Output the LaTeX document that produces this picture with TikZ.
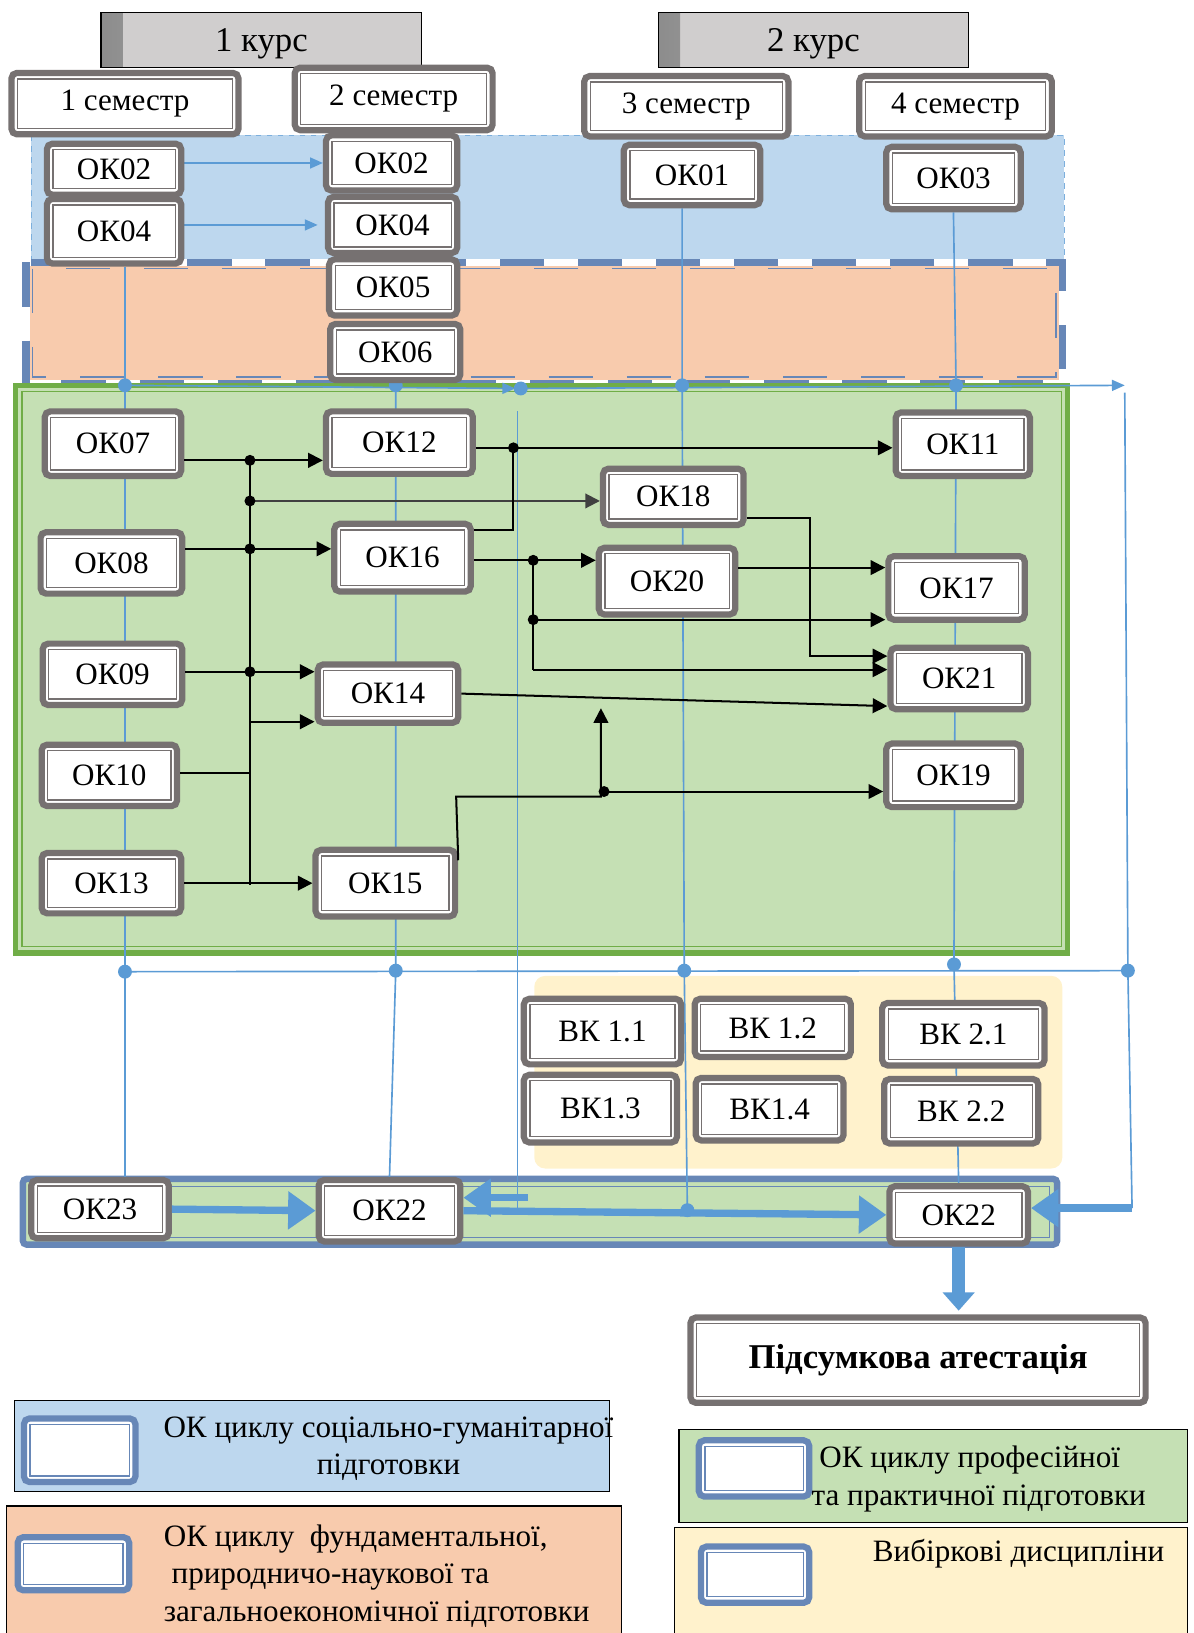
\documentclass[tikz,border=0pt]{standalone}
\usepackage{fontspec}
\setmainfont{Liberation Serif}
\usetikzlibrary{arrows.meta}
\definecolor{boxgray}{HTML}{767171}
\definecolor{kursgray}{HTML}{D0CECE}
\definecolor{socblue}{HTML}{BDD7EE}
\definecolor{fundorange}{HTML}{F8CBAD}
\definecolor{profgreen}{HTML}{C5E0B4}
\definecolor{greenline}{HTML}{70AD47}
\definecolor{electyellow}{HTML}{FFF2CC}
\definecolor{linkblue}{HTML}{5B9BD5}
\definecolor{frameblue}{HTML}{6787B7}
\pgfdeclarelayer{back}
\pgfdeclarelayer{links}
\pgfsetlayers{back,links,main}
\tikzset{
  wh/.style 2 args={minimum width=(#1-6)*0.02cm, minimum height=(#2-6)*0.02cm},
  dblbox/.style={draw=#1, line width=3.4pt, fill=white, rounded corners=3pt, inner sep=0pt,
    font=\fontsize{17}{20}\selectfont,
    path picture={\draw[#1, line width=0.7pt, sharp corners]
      ([shift={(3.3pt,-3.3pt)}]path picture bounding box.north west) rectangle
      ([shift={(-3.3pt,3.3pt)}]path picture bounding box.south east);}},
  okbox/.style={dblbox=boxgray},
  keybox/.style={dblbox=frameblue},
  kursbox/.style={draw=black, line width=0.6pt, fill=kursgray, inner sep=0pt,
    font=\fontsize{19}{22}\selectfont, text depth=0pt,
    path picture={\shade[left color=black!45, right color=kursgray]
      (path picture bounding box.north west) rectangle
      ([xshift=12pt]path picture bounding box.south west);}},
  keytext/.style={font=\fontsize{17}{20.5}\selectfont, inner sep=0pt},
  link/.style={draw=linkblue, line width=0.9pt},
  fat/.style={draw=linkblue, line width=4pt, -{Triangle[length=15pt,width=20pt]}},
  wire/.style={draw=black, line width=1.1pt},
  flow/.style={wire, -{Triangle[length=8pt,width=8pt]}}
}

\begin{document}
\begin{tikzpicture}[x=0.02cm,y=-0.02cm]
  \useasboundingbox (0,0) rectangle (1146,1568);

  % cycle areas
  \begin{pgfonlayer}{back}
    \fill[socblue] (30,130) rectangle (1022,250);
    \draw[linkblue!80, dashed, line width=0.5pt] (30,130) rectangle (1022,250);
    \fill[fundorange] (25,252) rectangle (1020,368);
    \draw[white, line width=4pt] (25,252) rectangle (1020,368);
    \draw[frameblue, line width=4pt, dash pattern=on 0.85cm off 0.65cm] (25,252) rectangle (1020,368);
    \draw[frameblue, line width=0.8pt, dash pattern=on 0.85cm off 0.65cm] (31,258) rectangle (1014,362);
    \fill[profgreen] (15,370) rectangle (1025,915);
    \draw[greenline, line width=3pt] (15,370) rectangle (1025,915);
    \draw[greenline, line width=0.8pt] (21,376) rectangle (1019,909);
    \fill[electyellow, rounded corners=6pt] (513,937) rectangle (1020,1122);
    \fill[profgreen] (22,1132) rectangle (1015,1195);
    \draw[frameblue, line width=3.5pt, rounded corners=2pt] (22,1132) rectangle (1015,1195);
    \draw[frameblue, line width=0.7pt] (29,1139) rectangle (1008,1188);
  \end{pgfonlayer}

  % years and semesters
  \node[kursbox, wh={314}{59}] (kurs1) at (251,38.5) {1 курс};
  \node[kursbox, wh={304}{59}] (kurs2) at (781,38.5) {2 курс};
  \foreach \nm/\txt/\x/\y/\w/\h in {
    sem1/1 семестр/120/99.5/224/65, sem2/2 семестр/378/95/196/66,
    sem3/3 семестр/659/102/202/64, sem4/4 семестр/917.5/102/191/64}
    \node[okbox, wh={\w}{\h}] (\nm) at (\x,\y) {\txt};

  % disciplines
  \foreach \nm/\txt/\x/\y/\w/\h in {
    ok02a/ОК02/109.5/162.5/135/55, ok04a/ОК04/109.5/222/135/68,
    ok02b/ОК02/376/156.5/132/59, ok04b/ОК04/377/216/130/60,
    ok05/ОК05/377.5/276/129/60, ok06/ОК06/379.5/338/131/60,
    ok01/ОК01/664.5/168/137/64, ok03/ОК03/915.5/171/135/66,
    ok07/ОК07/108.5/426/137/68, ok08/ОК08/107/540.5/142/65,
    ok09/ОК09/108/647.5/140/65, ok10/ОК10/105/744.5/136/65,
    ok13/ОК13/107/848/140/64, ok12/ОК12/383.5/425/147/66,
    ok16/ОК16/386.5/535.5/137/71, ok14/ОК14/372.5/666/141/62,
    ok15/ОК15/370/848/140/70, ok18/ОК18/646.5/477/141/60,
    ok20/ОК20/640.5/558/137/70, ok11/ОК11/924.5/426.5/135/67,
    ok17/ОК17/918.5/564.5/137/67, ok21/ОК21/921/651.5/138/65,
    ok19/ОК19/915.5/744.5/135/67,
    vk11/ВК 1.1/578.5/990.5/157/69, vk12/ВК 1.2/742/987/156/62,
    vk21/ВК 2.1/925/993/162/66, vk13/ВК1.3/576.5/1064.5/153/71,
    vk14/ВК1.4/739/1065/148/66, vk22/ВК 2.2/923/1067/154/68,
    ok23/ОК23/96/1161/138/62, ok22a/ОК22/374/1162.5/142/65,
    ok22b/ОК22/920.5/1166.5/139/61}
    \node[okbox, wh={\w}{\h}] (\nm) at (\x,\y) {\txt};
  \node[okbox, wh={443}{88}, font=\bfseries\fontsize{19}{22}\selectfont] (final)
    at (881.5,1306) {Підсумкова атестація};

  % blue semester lines
  \coordinate (t1) at (120,370);  \coordinate (t2) at (380,370);
  \coordinate (t3) at (500,373);  \coordinate (t4) at (655,370);
  \coordinate (t5) at (918,370);  \coordinate (tend) at (1080,370);
  \coordinate (m1) at (120,933);  \coordinate (m2) at (380,932);
  \coordinate (m3) at (657,932);  \coordinate (m4) at (916,926);
  \coordinate (m5) at (1083,932); \coordinate (b3) at (660,1162);
  \coordinate (c3) at (497,395);  \coordinate (c3b) at (497,1160);
  \coordinate (lret) at (507,1150); \coordinate (r1) at (1087,1160);
  \begin{pgfonlayer}{links}
    \draw[link] (ok04a.south -| t1) -- (t1) -- (m1) -- (ok23.north -| m1);
    \draw[link] (ok06.south -| t2) -- (t2) -- (m2) -- (ok22a.north);
    \draw[link] (ok01.south -| t4) -- (t4) -- (m3) -- (b3);
    \draw[link] (ok03.south) -- (t5) -- (m4) -- (ok22b.north);
    \draw[link, -{Triangle[length=7pt,width=6pt]}] (t1) -- ([xshift=-3pt]t3);
    \draw[link, -{Triangle[length=7pt,width=6pt]}] (t3) -- (tend);
    \draw[link] ([yshift=-4pt]tend) -- (m5) -- (r1);
    \draw[link] (m1) -- (m5);
    \draw[link] (c3) -- (c3b);
    \draw[link, -{Triangle[length=7pt,width=6pt]}] (ok02a.east |- ok02b.west) -- (ok02b.west);
    \draw[link, -{Triangle[length=7pt,width=6pt]}] (ok04a.east |- ok04b.west) -- ([xshift=-4pt]ok04b.west);
    \foreach \p in {t1,t2,t3,t4,t5,m1,m2,m3,m4,m5}
      \fill[linkblue] (\p) circle[radius=3.8pt];
  \end{pgfonlayer}

  % final module
  \draw[fat] (ok23.east) -- (ok22a.west);
  \draw[fat] (lret) -- (ok22a.east |- lret);
  \draw[fat] (ok22a.east) -- (ok22b.west);
  \draw[fat] (r1) -- (ok22b.east |- r1);
  \fill[linkblue] (b3) circle[radius=3.8pt];
  \draw[draw=linkblue, line width=7pt, -{Triangle[length=10pt,width=17pt]}, shorten >=2pt]
    (ok22b.south) -- (ok22b.south |- final.north);

  % professional links
  \coordinate (j1) at (240,442);  \coordinate (j2) at (240,481);
  \coordinate (j3) at (240,527);  \coordinate (j4) at (240,645);
  \coordinate (j5) at (240,693);  \coordinate (j6) at (240,742);
  \coordinate (j7) at (240,850);
  \coordinate (k0) at (493,509);  \coordinate (k1) at (493,430);
  \coordinate (k2) at (512,538);  \coordinate (k4) at (512,595);
  \coordinate (k5) at (512,643);  \coordinate (k6) at (778,497);
  \coordinate (k7) at (778,630);  \coordinate (k8) at (780,545);
  \coordinate (k9) at (850,678);  \coordinate (k13) at (438,826);
  \coordinate (k10) at (438,765); \coordinate (k11) at (577,765);
  \coordinate (k12) at (577,680); \coordinate (k14) at (580,760);
  \draw[wire] (j1) -- (j7);
  \draw[flow] (ok07.east |- j1) -- (ok12.west |- j1);
  \draw[flow, draw=black!75] (j2) -- (ok18.west |- j2);
  \draw[flow] (ok08.east |- j3) -- (ok16.west |- j3);
  \draw[flow] (ok09.east |- j4) -- (ok14.west |- j4);
  \draw[flow] (j5) -- (ok14.west |- j5);
  \draw[wire] (ok10.east |- j6) -- (j6);
  \draw[flow] (ok13.east) -- (ok15.west);
  \draw[flow] (ok12.east |- k1) -- (ok11.west |- k1);
  \draw[wire] (ok16.east |- k0) -- (k0) -- (k1);
  \draw[flow] (ok16.east |- k2) -- (k2) -- (ok20.west |- k2);
  \draw[wire] (k2) -- (k5);
  \draw[flow] (k4) -- (ok17.west |- k4);
  \draw[flow] (k5) -- (ok21.west |- k5);
  \draw[flow] (ok18.east |- k6) -- (k6) -- (k7) -- (ok21.west |- k7);
  \draw[flow] (ok20.east |- k8) -- (ok17.west |- k8);
  \draw[flow] (ok14.east) -- (ok21.west |- k9);
  \draw[flow] (ok15.east |- k13) -- (k10) -- (k11) -- (k12);
  \draw[flow] (k14) -- (ok19.west |- k14);
  \foreach \p in {j1,j2,j3,j4,k1,k2,k4,k14}
    \fill (\p) circle[radius=3pt];

  % legend
  \draw[line width=0.6pt, fill=socblue] (14,1345) rectangle (585,1432);
  \node[keybox, wh={113}{67}] (keysoc) at (76.5,1392.5) {};
  \node[keytext, align=center] (txtsoc) at (373,1391)
    {ОК циклу соціально-гуманітарної\\підготовки};
  \draw[line width=0.6pt, fill=fundorange] (6,1446) rectangle (597,1580);
  \node[keybox, wh={113}{57}] (keyfund) at (70.5,1501.5) {};
  \node[keytext, align=left, anchor=west] (txtfund) at (157,1513)
    {ОК циклу\ \ фундаментальної,\\\ природничо-наукової та\\загальноекономічної підготовки};
  \draw[line width=0.6pt, fill=profgreen] (652,1373) rectangle (1140,1462);
  \node[keybox, wh={112}{60}] (keyprof) at (724,1410) {};
  \node[keytext, align=left, anchor=west] (txtprof) at (779,1420)
    {\ ОК циклу професійної\\та практичної підготовки};
  \draw[line width=0.6pt, fill=electyellow] (648,1467) rectangle (1140,1580);
  \node[keybox, wh={110}{60}] (keyelect) at (725,1512) {};
  \node[keytext] (txtelect) at (978,1492) {Вибіркові дисципліни};
\end{tikzpicture}
\end{document}
